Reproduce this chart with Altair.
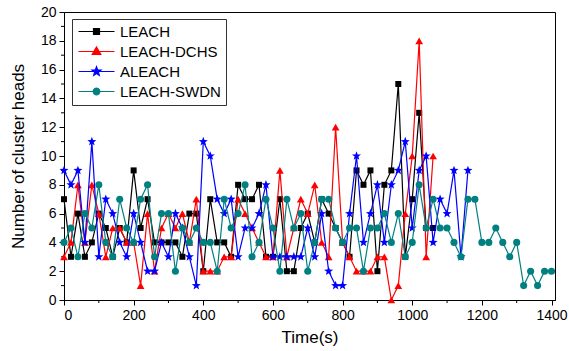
import math
import altair as alt
import pandas as pd

# ---------------- data ----------------
series_names = ["LEACH", "LEACH-DCHS", "ALEACH", "LEACH-SWDN"]
series_colors = ["#000000", "#FF0000", "#0000FF", "#008080"]

time_leach = list(range(0, 1061, 20))
leach = [7, 3, 6, 3, 4, 6, 5, 3, 5, 4,
         9, 5, 7, 4, 4, 4, 4, 3, 6, 6,
         2, 7, 4, 4, 3, 8, 7, 7, 8, 3,
         3, 7, 2, 2, 5, 6, 4, 7, 6, 5,
         4, 3, 9, 8, 9, 2, 8, 9, 15, 3,
         7, 13, 5, 5]

time_dchs = list(range(0, 1061, 20))
dchs = [3, 4, 8, 4, 8, 6, 3, 5, 5, 4,
        4, 1, 6, 2, 5, 6, 5, 6, 4, 7,
        2, 2, 2, 3, 3, 7, 6, 5, 4, 3,
        3, 9, 3, 5, 7, 6, 8, 4, 3, 12,
        4, 3, 2, 2, 2, 3, 3, 0, 1, 6,
        10, 18, 3, 10]

time_aleach = list(range(0, 1161, 20))
aleach = [9, 8, 9, 4, 11, 3, 7, 6, 4, 3,
          6, 4, 2, 2, 4, 3, 6, 5, 3, 1,
          11, 10, 7, 6, 7, 3, 5, 5, 6, 8,
          3, 3, 3, 3, 3, 5, 3, 6, 2, 1,
          1, 6, 10, 4, 6, 8, 4, 8, 9, 11,
          5, 9, 10, 4, 7, 6, 9, 3, 9]

time_swdn = list(range(0, 1401, 20))
swdn = [4, 5, 3, 6, 5, 8, 4, 3, 7, 5,
        4, 7, 8, 3, 6, 6, 2, 5, 4, 5,
        4, 4, 2, 7, 5, 6, 8, 3, 4, 7,
        5, 2, 7, 5, 6, 2, 4, 7, 7, 5,
        4, 5, 5, 2, 5, 5, 6, 4, 6, 3,
        4, 8, 5, 7, 5, 5, 4, 3, 7, 7,
        4, 4, 5, 4, 3, 4, 1, 2, 1, 2, 2]

x_major = [0, 200, 400, 600, 800, 1000, 1200, 1400]
x_minor = [100, 300, 500, 700, 900, 1100, 1300]
y_major = [0, 2, 4, 6, 8, 10, 12, 14, 16, 18, 20]
y_minor = [1, 3, 5, 7, 9, 11, 13, 15, 17, 19]

# ---------------- shapes ----------------
def star_path(cx=0.0, r=1.0, ratio=0.42):
    pts = []
    for k in range(10):
        a = math.radians(-90 + 36 * k)
        rr = r if k % 2 == 0 else r * ratio
        pts.append((cx + rr * math.cos(a), rr * math.sin(a)))
    return "M" + " L".join(f"{x:.3f},{y:.3f}" for x, y in pts) + " Z"


def circle_path(cx=0.0, r=1.0, n=20):
    pts = []
    for k in range(n):
        a = 2 * math.pi * k / n
        pts.append((cx + r * math.cos(a), r * math.sin(a)))
    return "M" + " L".join(f"{x:.3f},{y:.3f}" for x, y in pts) + " Z"


LINE = "M-1,0 L5,0 "
legend_paths = [
    LINE + "M1.5,-0.5 L2.5,-0.5 L2.5,0.5 L1.5,0.5 Z",
    LINE + "M2,-0.75 L2.72,0.5 L1.28,0.5 Z",
    LINE + star_path(2.0, 0.8),
    LINE + circle_path(2.0, 0.55),
]
plot_shapes = ["square", "triangle-up", star_path(), "circle"]
plot_sizes = [36, 60, 90, 50]

FONT = "Liberation Sans"

xscale = alt.Scale(domain=[0, 1410], nice=False, zero=False)
yscale = alt.Scale(domain=[0, 20], nice=False)

xaxis = alt.Axis(values=x_major, format="d", grid=False, tickSize=5, tickColor="black",
                 domainColor="black", labelColor="black", labelFontSize=14,
                 labelFont=FONT, labelPadding=3, title="Time(s)",
                 titleFontSize=17, titleFont=FONT, titleFontWeight="normal",
                 titleColor="black", titleBaseline="middle", titleY=37)
yaxis = alt.Axis(values=y_major, format="d", grid=False, tickSize=5, tickColor="black",
                 domainColor="black", labelColor="black", labelFontSize=14,
                 labelFont=FONT, labelPadding=3, title="Number of cluster heads",
                 titleFontSize=17, titleFont=FONT, titleFontWeight="normal",
                 titleColor="black", titleBaseline="middle", titleAngle=270,
                 titleAlign="center", titleX=-46, titleY=144)

layers = []

# minor ticks
layers.append(
    alt.Chart(pd.DataFrame({"t": x_minor})).mark_rule(color="black", strokeWidth=1).encode(
        x=alt.X("t:Q", scale=xscale, axis=xaxis),
        y=alt.value(288), y2=alt.value(291))
)
layers.append(
    alt.Chart(pd.DataFrame({"v": y_minor})).mark_rule(color="black", strokeWidth=1).encode(
        y=alt.Y("v:Q", scale=yscale, axis=yaxis),
        x=alt.value(0), x2=alt.value(-3))
)

all_series = [(time_leach, leach), (time_dchs, dchs), (time_aleach, aleach), (time_swdn, swdn)]
for i, (ts, vs) in enumerate(all_series):
    df = pd.DataFrame({"t": ts, "v": vs})
    base = alt.Chart(df).encode(
        x=alt.X("t:Q", scale=xscale, axis=xaxis),
        y=alt.Y("v:Q", scale=yscale, axis=yaxis),
    )
    layers.append(base.mark_line(color=series_colors[i], strokeWidth=1.2))
    layers.append(base.mark_point(shape=plot_shapes[i], filled=True, color=series_colors[i],
                                  size=plot_sizes[i], opacity=1))

# legend layer (no visible marks)
leg = alt.Legend(title=None, orient="none", legendX=8, legendY=7, strokeColor="#333333",
                 fillColor="white", padding=5, rowPadding=4, labelFontSize=15,
                 labelFont=FONT, labelColor="black", labelOffset=28, symbolSize=144,
                 symbolStrokeWidth=1.2, symbolOpacity=1)
legend_df = pd.DataFrame({"series": series_names, "t": [0, 0, 0, 0], "v": [0, 0, 0, 0]})
layers.append(
    alt.Chart(legend_df).transform_filter("datum.t > 5000").mark_point(filled=True).encode(
        x=alt.X("t:Q", scale=xscale, axis=xaxis),
        y=alt.Y("v:Q", scale=yscale, axis=yaxis),
        shape=alt.Shape("series:N", scale=alt.Scale(domain=series_names, range=legend_paths), legend=leg),
        fill=alt.Fill("series:N", scale=alt.Scale(domain=series_names, range=series_colors), legend=leg),
        stroke=alt.Stroke("series:N", scale=alt.Scale(domain=series_names, range=series_colors), legend=leg),
    )
)

chart = alt.layer(*layers).properties(
    width=491, height=288,
    padding={"left": 64, "top": 12, "right": 14, "bottom": 51},
    autosize=alt.AutoSizeParams(type="none"),
    background="white",
).configure_view(stroke="black", strokeWidth=1)

chart.save("out.html", embed_options={"renderer": "svg", "actions": False})
